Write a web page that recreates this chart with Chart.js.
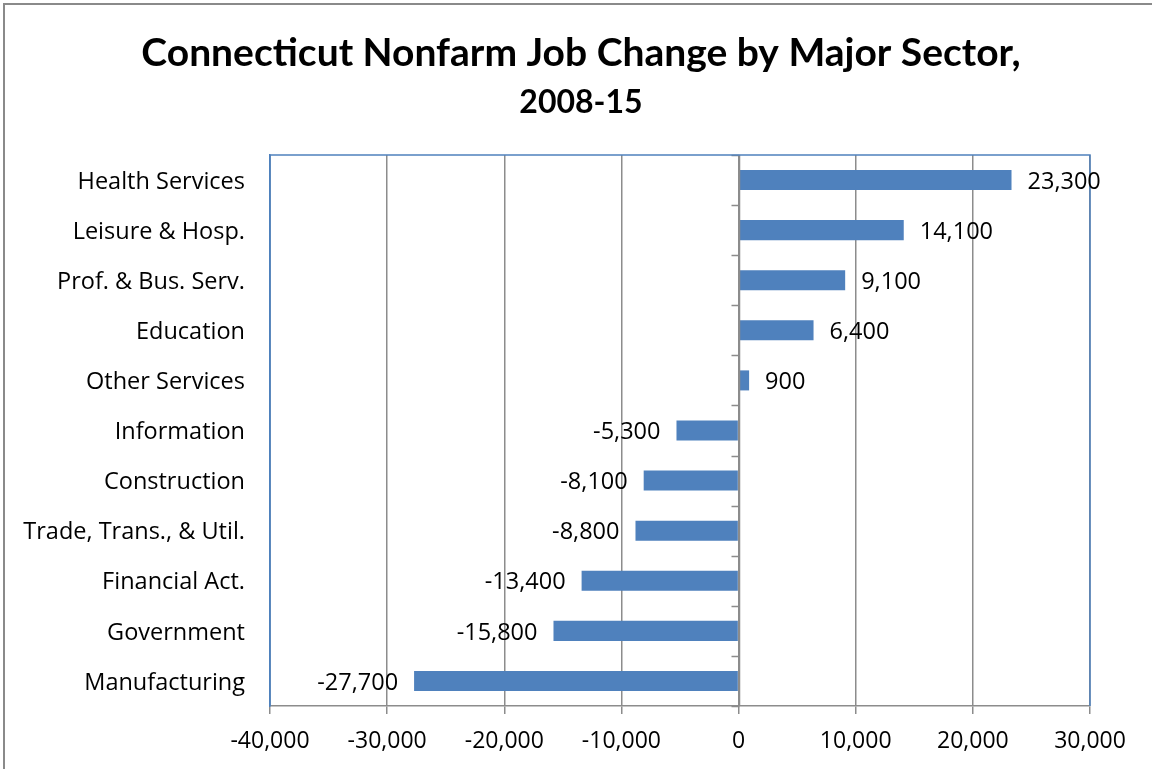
<!DOCTYPE html>
<html>
<head>
<meta charset="utf-8">
<script src="https://cdn.jsdelivr.net/npm/chart.js@4"></script>
<style>
  html, body { margin: 0; padding: 0; background: #fff; }
  #wrap { width: 1152px; height: 769px; position: relative; }
</style>
</head>
<body>
<div id="wrap"><canvas id="chart"></canvas></div>
<script>
const sectors = [
  "Health Services", "Leisure & Hosp.", "Prof. & Bus. Serv.", "Education",
  "Other Services", "Information", "Construction", "Trade, Trans., & Util.",
  "Financial Act.", "Government", "Manufacturing"
]
const jobChange = [23300, 14100, 9100, 6400, 900, -5300, -8100, -8800, -13400, -15800, -27700]
const xTicks = [-40000, -30000, -20000, -10000, 0, 10000, 20000, 30000]
const titleLines = ["Connecticut Nonfarm Job Change by Major Sector,", "2008-15"]

const TITLE_FONT = "Lato, 'Liberation Sans', sans-serif"
const FONT = "'Open Sans', 'Liberation Sans', sans-serif"
const BLUE = "#4f81bd"
const GRID = "#8c8c8c"

const fmt = v => v.toLocaleString("en-US")

// frame, title, zero axis with category ticks, blue plot border, value labels
const decorations = {
  id: "decorations",
  beforeDraw(chart) {
    const ctx = chart.ctx
    ctx.save()
    ctx.strokeStyle = "#8a8a8a"
    ctx.lineWidth = 2
    ctx.strokeRect(4, 4, chart.width + 10, chart.height + 10)
    ctx.fillStyle = "#000"
    ctx.textAlign = "center"
    ctx.textBaseline = "alphabetic"
    ctx.font = "bold 39px " + TITLE_FONT
    ctx.fillText(titleLines[0], 581, 66)
    ctx.font = "bold 32px " + TITLE_FONT
    ctx.fillText(titleLines[1], 581, 113)
    ctx.restore()
  },
  afterDatasetsDraw(chart) {
    const { ctx, chartArea: a, scales: { x } } = chart
    ctx.save()
    // zero axis
    const x0 = Math.round(x.getPixelForValue(0)) + 0.5
    ctx.strokeStyle = GRID
    ctx.lineWidth = 1.5
    ctx.beginPath()
    ctx.moveTo(x0, a.top)
    ctx.lineTo(x0, a.bottom)
    const step = (a.bottom - a.top) / sectors.length
    for (let i = 0; i <= sectors.length; i++) {
      const yy = Math.round(a.top + i * step) + 0.5
      ctx.moveTo(x0 - 8, yy)
      ctx.lineTo(x0, yy)
    }
    ctx.stroke()
    // plot border top / left / right
    ctx.strokeStyle = BLUE
    ctx.lineWidth = 1.5
    ctx.beginPath()
    ctx.moveTo(a.left, a.bottom)
    ctx.lineTo(a.left, a.top)
    ctx.lineTo(a.right, a.top)
    ctx.lineTo(a.right, a.bottom)
    ctx.stroke()
    // value labels
    ctx.fillStyle = "#000"
    ctx.font = "23.5px " + FONT
    ctx.textBaseline = "middle"
    const meta = chart.getDatasetMeta(0)
    meta.data.forEach((bar, i) => {
      const v = jobChange[i]
      if (v >= 0) {
        ctx.textAlign = "left"
        ctx.fillText(fmt(v), bar.x + 16, bar.y + 2)
      } else {
        ctx.textAlign = "right"
        ctx.fillText(fmt(v), bar.x - 16, bar.y + 2)
      }
    })
    ctx.restore()
  }
}

new Chart(document.getElementById("chart"), {
  type: "bar",
  data: {
    labels: sectors,
    datasets: [{
      data: jobChange,
      backgroundColor: BLUE,
      borderWidth: 0,
      barPercentage: 0.4,
      categoryPercentage: 1
    }]
  },
  options: {
    indexAxis: "y",
    responsive: true,
    maintainAspectRatio: false,
    animation: false,
    layout: { padding: { left: 0, right: 62, top: 155, bottom: 0 } },
    plugins: {
      legend: { display: false },
      tooltip: { enabled: false },
      title: { display: false }
    },
    scales: {
      x: {
        min: -40000,
        max: 30000,
        afterBuildTicks(scale) { scale.ticks = xTicks.map(v => ({ value: v })) },
        afterFit(scale) { scale.height = 63 },
        ticks: {
          color: "#000",
          font: { family: FONT, size: 23 },
          padding: 14,
          maxRotation: 0,
          callback: v => fmt(v)
        },
        grid: { color: GRID, lineWidth: 1.5, tickLength: 8, drawTicks: true },
        border: { color: GRID, width: 1.5 }
      },
      y: {
        afterFit(scale) { scale.width = 270 },
        ticks: {
          color: "#000",
          font: { family: FONT, size: 23.5 },
          padding: 25,
          labelOffset: 2
        },
        grid: { display: false, drawTicks: false },
        border: { color: BLUE, width: 1.5 }
      }
    }
  },
  plugins: [decorations]
})
</script>
</body>
</html>
